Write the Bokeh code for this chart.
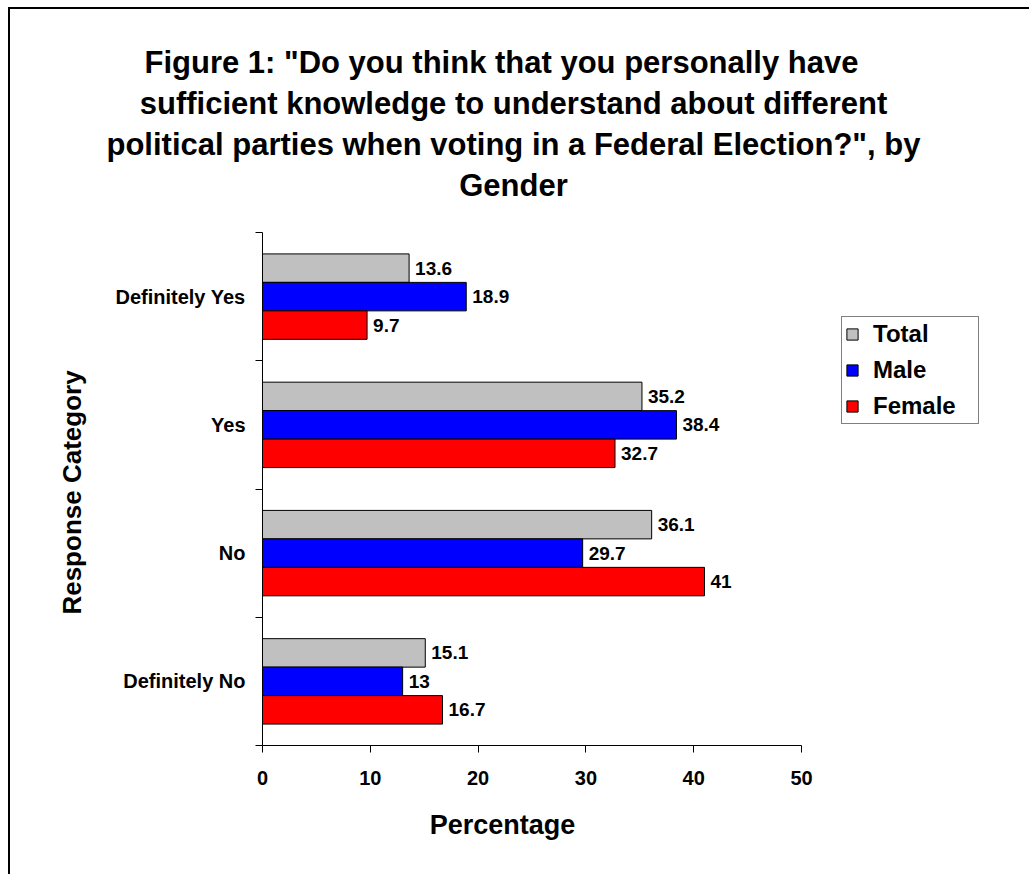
from bokeh.plotting import figure
from bokeh.models import (ColumnDataSource, FixedTicker, Legend, LegendItem,
                          Range1d, Title)
from bokeh.core.properties import value
from bokeh.embed import file_html
from bokeh.resources import INLINE

# ---- data -------------------------------------------------------------
# categories listed bottom -> top on the y axis
categories = ["Definitely No", "No", "Yes", "Definitely Yes"]
series_names = ["Total", "Male", "Female"]
total = [15.1, 36.1, 35.2, 13.6]
male = [13, 29.7, 38.4, 18.9]
female = [16.7, 41, 32.7, 9.7]
series_colors = ["#C0C0C0", "#0000FF", "#FF0000"]
x_ticks = [0, 10, 20, 30, 40, 50]
title_lines = [
    'Figure 1: "Do you think that you personally have',
    'sufficient knowledge to understand about different',
    'political parties when voting in a Federal Election?", by',
    'Gender',
]
x_title = "Percentage"
y_title = "Response Category"

FONT = "Liberation Sans"

# advance widths of Liberation Sans Bold (per 1000 em), used to centre
# left-anchored titles on a chosen position
_W = {" ": 278, '"': 474, ",": 278, ".": 278, ":": 333, "?": 611,
      "D": 722, "E": 667, "F": 611, "G": 778, "P": 667, "R": 722, "C": 722}
_W.update({d: 556 for d in "0123456789"})
_W.update(dict(zip("abcdefghijklmnopqrstuvwxyz",
                   [556, 611, 556, 611, 556, 333, 611, 611, 278, 278, 556, 278,
                    889, 611, 611, 611, 611, 389, 556, 333, 611, 556, 778, 556,
                    556, 500])))


def text_width(s, size):
    return sum(_W.get(ch, 600) for ch in s) * size / 1000.0


# ---- page geometry (pixels) --------------------------------------------
PAGE_W, PAGE_H = 1031, 876
MARGIN_L, MARGIN_T, BORDER = 8, 7, 2
OX, OY = MARGIN_L + BORDER, MARGIN_T + BORDER          # canvas origin on page
FRAME_L, FRAME_T, FRAME_B, FRAME_R = 262, 204, 745, 1021
AXIS_TOP = 232                                          # top of category band
X_AT_50 = 801                                           # page x of value 50

W = PAGE_W - OX
H = PAGE_H - OY

n_cat = len(categories)
px_per_cat = (FRAME_B - AXIS_TOP) / n_cat
y_end = n_cat - 0.5 + (AXIS_TOP - FRAME_T) / px_per_cat
px_per_unit = (X_AT_50 - FRAME_L) / 50.0
x_end = 50 + (FRAME_R - X_AT_50) / px_per_unit

p = figure(
    width=W, height=H, title=None,
    x_range=Range1d(0, x_end), y_range=Range1d(-0.5, y_end),
    output_backend="svg", toolbar_location=None,
    min_border_left=FRAME_L - OX, min_border_right=PAGE_W - FRAME_R,
    min_border_top=FRAME_T - OY, min_border_bottom=PAGE_H - FRAME_B,
    margin=(MARGIN_T, 0, 0, MARGIN_L),
)
p.styles = {"border-left": "2px solid #000000", "border-top": "2px solid #000000"}
p.outline_line_color = None
p.xgrid.visible = False
p.ygrid.visible = False
p.background_fill_color = "white"
p.border_fill_color = "white"

# ---- bars ---------------------------------------------------------------
bar_h = 0.222
offsets = [bar_h, 0.0, -bar_h]
values = [total, male, female]
items = []
for name, vals, color, off in zip(series_names, values, series_colors, offsets):
    src = ColumnDataSource(dict(
        y=[i + off for i in range(n_cat)],
        v=vals,
        lab=[f"{v:g}" for v in vals],
    ))
    r = p.hbar(y="y", right="v", left=0, height=bar_h, source=src,
               fill_color=color, line_color="black", line_width=1)
    p.text(x="v", y="y", text="lab", source=src, x_offset=6,
           text_baseline="middle", text_align="left",
           text_font=value(FONT), text_font_style="bold", text_font_size="19px",
           text_color="black")
    items.append(LegendItem(label=name, renderers=[r]))

# ---- axes ---------------------------------------------------------------
xa = p.xaxis[0]
xa.bounds = (0, 50)
xa.ticker = FixedTicker(ticks=x_ticks, minor_ticks=[])
xa.axis_line_color = "black"
xa.major_tick_line_color = "black"
xa.major_tick_out = 7
xa.major_tick_in = 0
xa.minor_tick_line_color = None
xa.major_label_text_font = FONT
xa.major_label_text_font_style = "bold"
xa.major_label_text_font_size = "20px"
xa.major_label_text_color = "black"
xa.major_label_standoff = 18

ya = p.yaxis[0]
ya.bounds = (-0.5, n_cat - 0.5)
ya.ticker = FixedTicker(ticks=list(range(n_cat)),
                        minor_ticks=[i - 0.5 for i in range(n_cat + 1)])
ya.major_label_overrides = {i: c for i, c in enumerate(categories)}
ya.axis_line_color = "black"
ya.major_tick_line_color = None
ya.major_tick_out = 0
ya.major_tick_in = 0
ya.minor_tick_line_color = "black"
ya.minor_tick_out = 7
ya.minor_tick_in = 0
ya.major_label_text_font = FONT
ya.major_label_text_font_style = "bold"
ya.major_label_text_font_size = "20px"
ya.major_label_text_color = "black"
ya.major_label_standoff = 10

# axis titles, placed in the panels beyond the axes
x_size = 27
p.add_layout(Title(
    text=x_title, align="left",
    offset=502 - text_width(x_title, x_size) / 2 - FRAME_L,
    vertical_align="top", standoff=44,
    text_font=FONT, text_font_style="bold", text_font_size=f"{x_size}px",
    text_color="black"), "below")

y_size = 26
p.add_layout(Title(
    text=y_title, align="left",
    offset=FRAME_B - (492 + text_width(y_title, y_size) / 2),
    vertical_align="bottom", standoff=51,
    text_font=FONT, text_font_style="bold", text_font_size=f"{y_size}px",
    text_color="black"), "left")

# ---- legend -------------------------------------------------------------
legend = Legend(items=items, location=(841 - FRAME_L, FRAME_B - 424))
legend.margin = 0
legend.padding = 3
legend.spacing = 8
legend.glyph_width = 14
legend.glyph_height = 14
legend.label_height = 28
legend.label_width = 102
legend.label_standoff = 14
legend.label_text_font = FONT
legend.label_text_font_style = "bold"
legend.label_text_font_size = "24px"
legend.label_text_color = "black"
legend.border_line_color = "black"
legend.border_line_width = 1
legend.background_fill_color = "white"
legend.background_fill_alpha = 1
p.add_layout(legend)

# ---- chart title: one Title per line, added from the plot outward -------
t_size = 31
title_centres = [501, 513, 513, 513]
for line, cx in reversed(list(zip(title_lines, title_centres))):
    p.add_layout(Title(
        text=line, align="left",
        offset=cx - text_width(line, t_size) / 2 - FRAME_L,
        standoff=4,
        text_font=FONT, text_font_style="bold", text_font_size=f"{t_size}px",
        text_color="black"), "above")

open("out.html", "w").write(file_html(p, INLINE))
